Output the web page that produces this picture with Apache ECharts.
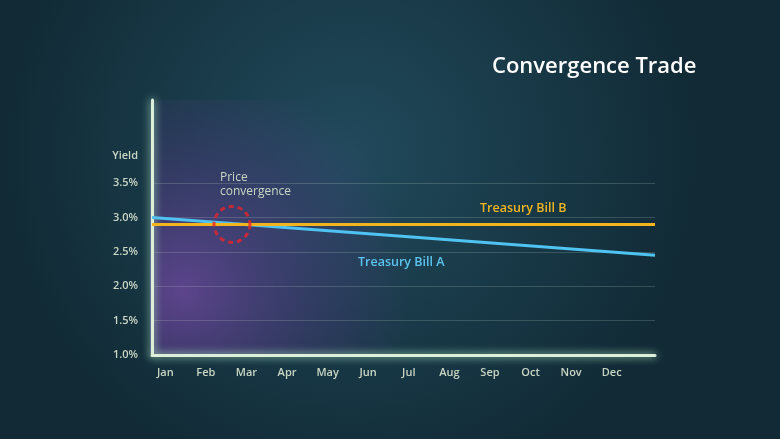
<!DOCTYPE html>
<html><head><meta charset="utf-8">
<script src="https://cdn.jsdelivr.net/npm/echarts@6/dist/echarts.min.js"></script>
<style>html,body{margin:0;padding:0;background:#173340}#c{width:780px;height:439px}</style>
</head><body><div id="c"></div>
<script>
const months=['Jan','Feb','Mar','Apr','May','Jun','Jul','Aug','Sep','Oct','Nov','Dec'];
const billA=[[-0.32,3.0],[12.07,2.45]];
const billB=[[-0.32,2.9],[12.07,2.9]];
const convergencePoint=[[1.65,2.9]];
const yMin=1, yMax=4.71;
const chart=echarts.init(document.getElementById('c'));
const F='"Open Sans", Lato, sans-serif';
chart.setOption({
  backgroundColor:{type:'radial',x:0.45,y:0.35,r:0.8,colorStops:[{offset:0,color:'#214a5c'},{offset:1,color:'#112a35'}]},
  graphic:[
    {type:'rect',z:-1,shape:{x:150,y:100,width:320,height:255},style:{fill:{type:'radial',x:0.1,y:0.75,r:0.9,colorStops:[{offset:0,color:'rgba(150,80,200,0.55)'},{offset:0.6,color:'rgba(110,60,160,0.25)'},{offset:1,color:'rgba(110,60,160,0)'}]}}},
    {type:'text',left:492,top:56,style:{text:'Convergence Trade',fill:'#ffffff',font:'600 22px '+F}},
    {type:'text',left:220,top:171,style:{text:'Price\nconvergence',fill:'#c9d6c4',font:'12px '+F,lineHeight:14}},
    {type:'text',left:480,top:202,style:{text:'Treasury Bill B',fill:'#f2b51e',font:'600 12.5px '+F}},
    {type:'text',left:358,top:256,style:{text:'Treasury Bill A',fill:'#5cc4f0',font:'600 12.5px '+F}}
  ],
  grid:[{left:152,right:125,top:100,bottom:84},{left:145,right:148,top:100,bottom:84}],
  xAxis:[
    {type:'value',gridIndex:0,min:-0.32,max:12.07,axisLine:{show:true,onZero:false,lineStyle:{color:'#dcefd9',width:3,shadowColor:'#bfffd0',shadowBlur:8}},axisTick:{show:false},axisLabel:{show:false},splitLine:{show:false}},
    {type:'category',gridIndex:1,data:months,boundaryGap:true,axisLine:{show:false},axisTick:{show:false},axisLabel:{color:'#c9d6c4',fontFamily:F,fontSize:11,fontWeight:600,margin:12}}
  ],
  yAxis:[
    {type:'value',gridIndex:0,min:yMin,max:yMax,interval:0.5,
     axisLine:{show:true,onZero:false,lineStyle:{color:'#dcefd9',width:3,shadowColor:'#bfffd0',shadowBlur:8}},axisTick:{show:false},
     axisLabel:{color:'#c9d6c4',fontFamily:F,fontSize:11,fontWeight:600,margin:14,
       formatter:v=>v>4.2?'':(Math.abs(v-4)<0.01?'{y|Yield}':v.toFixed(1)+'%'),rich:{y:{padding:[0,0,-14,0],fontSize:11,fontWeight:600,color:'#c9d6c4',fontFamily:F}}},
     splitLine:{show:true,lineStyle:{color:['rgba(0,0,0,0)','rgba(200,220,210,0.2)','rgba(200,220,210,0.2)','rgba(200,220,210,0.2)','rgba(200,220,210,0.2)','rgba(200,220,210,0.2)','rgba(0,0,0,0)','rgba(0,0,0,0)']}}},
    {type:'value',gridIndex:1,show:false,min:yMin,max:yMax}
  ],
  series:[
    {type:'line',xAxisIndex:0,yAxisIndex:0,data:billA,symbol:'none',lineStyle:{color:'#4fc3f2',width:3}},
    {type:'line',xAxisIndex:0,yAxisIndex:0,data:billB,symbol:'none',lineStyle:{color:'#f2b51e',width:3}},
    {type:'scatter',xAxisIndex:0,yAxisIndex:0,data:convergencePoint,symbol:'circle',symbolSize:36,z:5,
     itemStyle:{color:'rgba(0,0,0,0)',borderColor:'#e8232a',borderWidth:3,borderType:[5,4]}}
  ]
});
</script></body></html>
